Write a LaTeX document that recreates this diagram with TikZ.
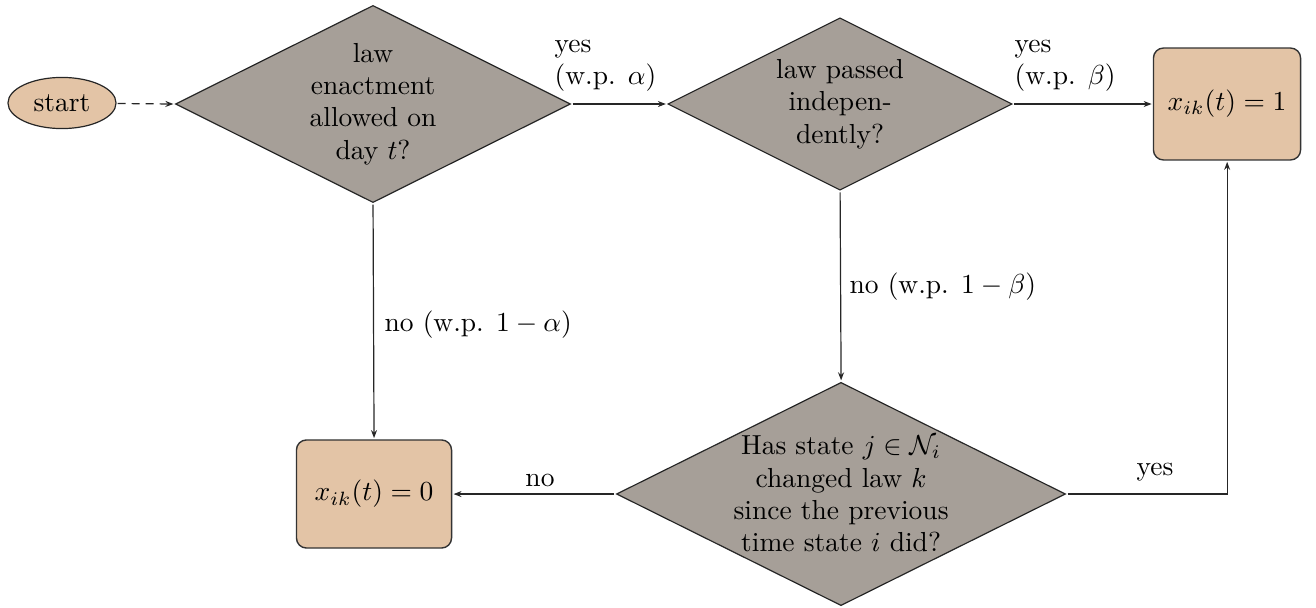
\RequirePackage{fix-cm}
\documentclass[tikz,border=0pt]{standalone}
\usepackage{amsmath}
\usetikzlibrary{shapes.geometric,arrows.meta}
\definecolor{decgray}{HTML}{A69F98}
\definecolor{boxtan}{HTML}{E3C4A6}
\tikzset{
  decision/.style={diamond, draw=black!85, fill=decgray, line width=1.2pt, inner sep=0pt},
  outbox/.style={rectangle, rounded corners=10pt, draw=black!80, fill=boxtan, line width=1.4pt, inner sep=0pt},
  startnode/.style={ellipse, draw=black!85, fill=boxtan, line width=1.2pt, inner sep=0pt, minimum width=39.3pt, minimum height=18.6pt},
  conn/.style={line width=1.2pt, draw=black!85, -{Stealth[length=8pt,width=6pt]}},
  lbl/.style={align=left, inner sep=0pt}
}
\begin{document}
\begin{tikzpicture}[x=0.363636pt,y=-0.363636pt, scale=2.75, every node/.append style={transform shape}, font=\fontsize{10}{11.8}\selectfont]
\useasboundingbox (0,0) rectangle (1316,608);
\node[startnode] (start) at (62,103) {start};
\node[decision, minimum width=144pt, minimum height=72pt,
  label={[align=center]center:{law\\enactment\\allowed on\\day $t$?}}] (d1) at (373,104) {};
\node[decision, minimum width=125.5pt, minimum height=63pt,
  label={[align=center]center:{law passed\\indepen-\\dently?}}] (d2) at (840,104) {};
\node[decision, minimum width=163.6pt, minimum height=81.5pt,
  label={[align=center]center:{Has state $j\in\mathcal{N}_i$\\changed law $k$\\since the previous\\time state $i$ did?}}] (d3) at (841,494) {};
\node[outbox, minimum width=53.5pt, minimum height=40.7pt] (b1) at (1227,104) {$x_{ik}(t)=1$};
\node[outbox, minimum width=56.4pt, minimum height=39.3pt] (b0) at (374,494) {$x_{ik}(t)=0$};

\draw[conn, dash pattern=on 8pt off 6pt] (start) -- (d1.west);
\draw[conn] (d1.east) -- (d2.west);
\draw[conn] (d2.east) -- (b1.west);
\draw[conn] (d1.south) -- (b0.north);
\draw[conn] (d2.south) -- (d3.north);
\draw[conn] (d3.west) -- (b0.east);
\draw[conn] (d3.east) -| (b1.south);

\node[lbl, anchor=west] (l1) at (554,66) {yes\\(w.p. $\alpha$)};
\node[lbl, anchor=west] (l2) at (1014,66) {yes\\(w.p. $\beta$)};
\node[lbl, anchor=west] (l3) at (384,325) {no (w.p. $1-\alpha$)};
\node[lbl, anchor=west] (l4) at (849,287) {no (w.p. $1-\beta$)};
\node[lbl] (l5) at (540,480) {no};
\node[lbl] (l6) at (1155,472) {yes};
\end{tikzpicture}
\end{document}
